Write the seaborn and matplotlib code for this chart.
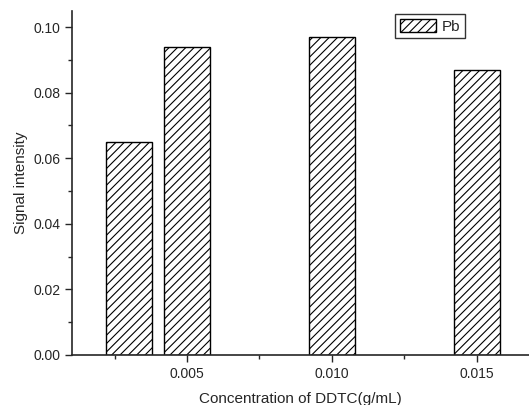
import matplotlib
matplotlib.use('Agg')
import matplotlib.pyplot as plt
from matplotlib.patches import Patch
from matplotlib.ticker import MultipleLocator, FormatStrFormatter
import seaborn as sns

# DDTC concentration (g/mL) and Pb signal
conc = [0.003, 0.005, 0.010, 0.015]
signal = [0.065, 0.094, 0.097, 0.087]

sns.set_style('ticks')
plt.rcParams['font.family'] = ['Liberation Sans', 'DejaVu Sans']
plt.rcParams['hatch.linewidth'] = 0.8

fig = plt.figure(figsize=(5.29, 4.05), dpi=100)
ax = fig.add_axes([72 / 529, 50 / 405, 1 - 72 / 529, 344 / 405])

sns.barplot(x=conc, y=signal, native_scale=True, width=0.8, color='white',
            edgecolor='black', linewidth=1.0, hatch='////', ax=ax)

ax.set_xlim(0.00103, 0.0168)
ax.set_ylim(0, 0.1049)
ax.xaxis.set_major_locator(MultipleLocator(0.005))
ax.xaxis.set_minor_locator(MultipleLocator(0.0025))
ax.xaxis.set_major_formatter(FormatStrFormatter('%.3f'))
ax.yaxis.set_major_locator(MultipleLocator(0.02))
ax.yaxis.set_minor_locator(MultipleLocator(0.01))
ax.yaxis.set_major_formatter(FormatStrFormatter('%.2f'))
ax.tick_params(which='major', length=5, width=1, labelsize=10, direction='out')
ax.tick_params(which='minor', length=3, width=1, direction='out')

sns.despine(ax=ax)
for s in ['left', 'bottom']:
    ax.spines[s].set_linewidth(1.2)

ax.set_xlabel('Concentration of DDTC(g/mL)', fontsize=11, labelpad=8)
ax.set_ylabel('Signal intensity', fontsize=11)

handle = Patch(facecolor='white', edgecolor='black', hatch='////', label='Pb')
ax.legend(handles=[handle], loc='upper left', bbox_to_anchor=(0.707, 0.99),
          borderaxespad=0, fontsize=11, frameon=True, fancybox=False,
          edgecolor='black', handlelength=2.4, handleheight=0.95,
          borderpad=0.3, handletextpad=0.35)

fig.savefig('out.png', dpi=100)
